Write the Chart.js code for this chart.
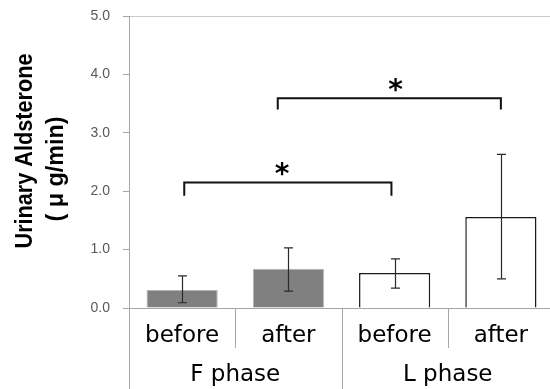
<!DOCTYPE html>
<html>
<head>
<meta charset="utf-8">
<script src="https://cdn.jsdelivr.net/npm/chart.js@4.4.1/dist/chart.umd.min.js"></script>
<style>
  html, body { margin: 0; padding: 0; background: #fff; overflow: hidden; }
  #wrap { width: 556px; height: 389px; }
</style>
</head>
<body>
<div id="wrap"><canvas id="chart"></canvas></div>
<script>
// Data
const categories = ["before", "after", "before", "after"];
const phases = ["F phase", "L phase"];
const means = [0.31, 0.67, 0.60, 1.56];
const errHigh = [0.55, 1.03, 0.84, 2.63];
const errLow = [0.09, 0.29, 0.34, 0.50];
const yTicks = [0, 1, 2, 3, 4, 5];

// Significance brackets (x in category units)
const bracketFrom = [0.02, 0.9];
const bracketTo = [1.97, 3.0];
const bracketTop = [2.15, 3.59];
const bracketFoot = [1.92, 3.40];
const starX = [0.94, 2.01];
const starY = [2.36, 3.81];

const axisGray = "#a6a6a6";

// draw text rotated, squeezed to a given length
function drawVertical(ctx, text, x, y, len) {
  const w = ctx.measureText(text).width;
  ctx.save();
  ctx.translate(x, y);
  ctx.rotate(-Math.PI / 2);
  ctx.scale(len / w, 1);
  ctx.fillText(text, 0, 0);
  ctx.restore();
}

// Error bars, brackets, category axis and y title
const extrasPlugin = {
  id: "extras",
  afterDatasetsDraw(chart) {
    const ctx = chart.ctx;
    const x = chart.scales.x;
    const y = chart.scales.y;
    const meta = chart.getDatasetMeta(0);
    ctx.save();

    // error bars
    ctx.strokeStyle = "#2a2a2a";
    ctx.lineWidth = 1.2;
    meta.data.forEach((bar, i) => {
      const cx = Math.round(bar.x) + 0.5;
      const hi = y.getPixelForValue(errHigh[i]);
      const lo = y.getPixelForValue(errLow[i]);
      ctx.beginPath();
      ctx.moveTo(cx, hi);
      ctx.lineTo(cx, lo);
      ctx.moveTo(cx - 4.5, hi);
      ctx.lineTo(cx + 4.5, hi);
      ctx.moveTo(cx - 4.5, lo);
      ctx.lineTo(cx + 4.5, lo);
      ctx.stroke();
    });

    // brackets
    ctx.strokeStyle = "#111";
    ctx.lineWidth = 2;
    ctx.fillStyle = "#000";
    ctx.font = "bold 28px 'DejaVu Sans'";
    ctx.textAlign = "center";
    ctx.textBaseline = "middle";
    for (let i = 0; i < bracketFrom.length; i++) {
      const x1 = x.getPixelForValue(bracketFrom[i]);
      const x2 = x.getPixelForValue(bracketTo[i]);
      const yt = y.getPixelForValue(bracketTop[i]);
      const yf = y.getPixelForValue(bracketFoot[i]);
      ctx.beginPath();
      ctx.moveTo(x1, yf);
      ctx.lineTo(x1, yt);
      ctx.lineTo(x2, yt);
      ctx.lineTo(x2, yf);
      ctx.stroke();
      ctx.fillText("*", x.getPixelForValue(starX[i]), y.getPixelForValue(starY[i]) + 6);
    }

    // axes
    const zero = y.getPixelForValue(0);
    const bottom = chart.height;
    ctx.strokeStyle = axisGray;
    ctx.lineWidth = 1;
    ctx.beginPath();
    ctx.moveTo(x.left + 0.5, y.getPixelForValue(5));
    ctx.lineTo(x.left + 0.5, bottom);
    ctx.moveTo(x.left, zero + 0.5);
    ctx.lineTo(x.right, zero + 0.5);
    for (let i = 1; i < categories.length; i++) {
      const sx = Math.round(x.getPixelForValue(i - 0.5)) + 0.5;
      ctx.moveTo(sx, zero);
      ctx.lineTo(sx, i === 2 ? bottom : zero + 40);
    }
    ctx.stroke();

    // category labels
    ctx.fillStyle = "#000";
    ctx.font = "23px 'DejaVu Sans'";
    ctx.textBaseline = "alphabetic";
    categories.forEach((c, i) => {
      ctx.fillText(c, x.getPixelForValue(i), zero + 34);
    });
    phases.forEach((p, i) => {
      ctx.fillText(p, x.getPixelForValue(i * 2 + 0.5), zero + 73);
    });

    // y title
    ctx.font = "bold 24px 'Liberation Sans'";
    drawVertical(ctx, "Urinary Aldsterone", 32, 151, 195);
    drawVertical(ctx, "( \u03bc g/min)", 63, 169, 105);

    ctx.restore();
  }
};

new Chart(document.getElementById("chart"), {
  type: "bar",
  data: {
    labels: categories,
    datasets: [
      {
        data: means,
        backgroundColor: ["#808080", "#808080", "#ffffff", "#ffffff"],
        borderColor: ["#b4b4b4", "#b4b4b4", "#1a1a1a", "#1a1a1a"],
        borderWidth: [1, 1, 1.5, 1.5],
        barPercentage: 0.67,
        categoryPercentage: 1.0,
      },
    ],
  },
  options: {
    responsive: true,
    maintainAspectRatio: false,
    animation: false,
    layout: { padding: { top: 16, right: 2, bottom: 73, left: 0 } },
    plugins: {
      legend: { display: false },
      tooltip: { enabled: false },
    },
    scales: {
      x: {
        offset: true,
        ticks: { display: false },
        grid: { display: false },
        border: { display: false },
      },
      y: {
        min: 0,
        max: 5,
        afterFit: (s) => {
          s.width = 129;
          s.paddingTop = 0;
          s.paddingBottom = 0;
        },
        afterBuildTicks: (s) => { s.ticks = yTicks.map((v) => ({ value: v })); },
        ticks: {
          padding: 13,
          color: "#595959",
          font: { family: "'Liberation Sans'", size: 14 },
          callback: (v) => Number(v).toFixed(1),
        },
        grid: {
          drawOnChartArea: true,
          tickLength: 6,
          color: (c) => (c.tick && c.tick.value === 5 ? "#c8c8c8" : "rgba(0,0,0,0)"),
          tickColor: axisGray,
        },
        border: { display: false },
      },
    },
  },
  plugins: [extrasPlugin],
});
</script>
</body>
</html>
